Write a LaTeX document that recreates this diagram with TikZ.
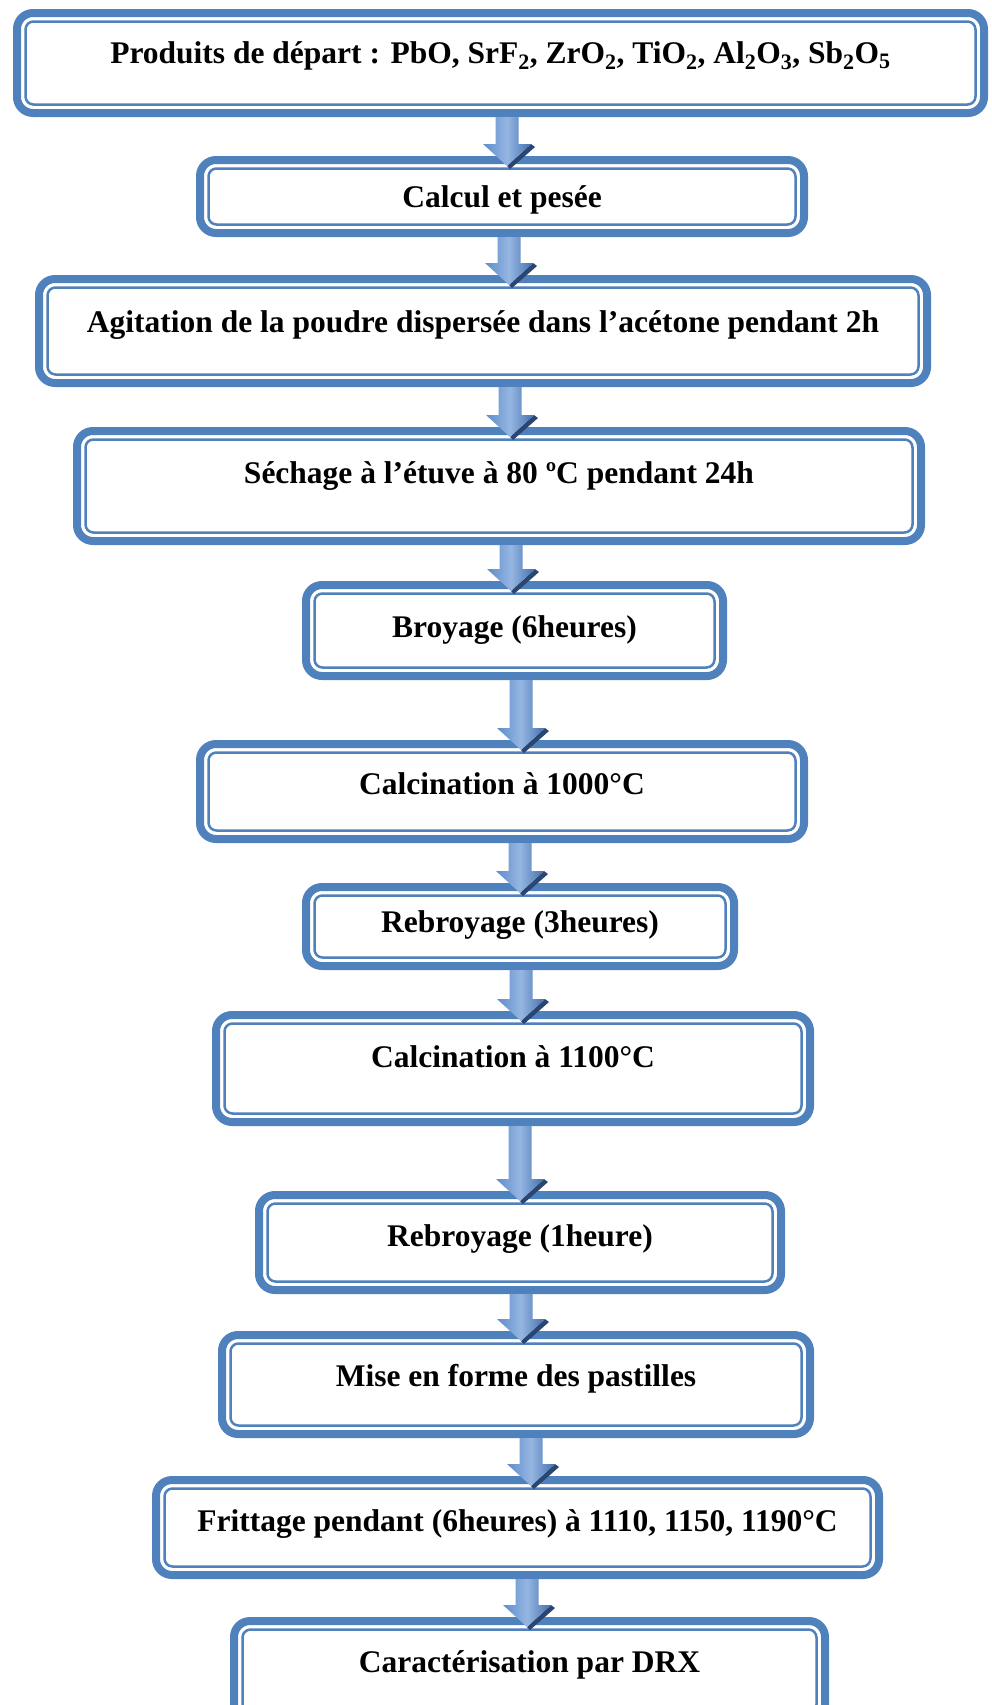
\documentclass[tikz,border=0pt]{standalone}
\usepackage{fontspec}
\setmainfont{Liberation Serif}
\usetikzlibrary{calc}
\definecolor{bxblue}{HTML}{4F81BD}
\definecolor{arlight}{HTML}{95B6E2}
\definecolor{arleft}{HTML}{5E8DCA}
\definecolor{ardark}{HTML}{416FAD}
\definecolor{arshadow}{HTML}{2A4670}
\tikzset{
  flowbox/.style={draw=bxblue, line width=8pt, rounded corners=16pt, outer sep=0pt, inner sep=0pt, fill=white},
  innerline/.style={draw=bxblue, line width=2.5pt, rounded corners=8pt},
  flowtext/.style={anchor=base, font=\bfseries\fontsize{31.5}{36}\selectfont, inner sep=0pt, text=black},
  arrowshade/.style={fill=arshadow},
}
\newcommand\flowbox[7]{%
  \node[flowbox, minimum width={(#4-#2-8)*1pt}, minimum height={(#5-#3-8)*1pt}] (#1) at ({(#2+#4)/2},{(#3+#5)/2}) {};
  \draw[innerline] ($(#1.north west)+(8.5pt,-8.5pt)$) rectangle ($(#1.south east)+(-8.5pt,8.5pt)$);
  \node[flowtext] (#1t) at ({(#2+#4)/2},#6) {#7};
}
\newcommand\flowarrow[3]{%
  \coordinate (#1ax) at (#3,0);
  \fill[arrowshade] let \p1=(#1.south), \p2=(#2.north), \p3=(#1ax) in
    (\x3+24pt,\y2+16pt) -- (\x3+28pt,\y2+13pt) -- (\x3+3pt,\y2-9pt) -- (\x3,\y2-6pt) -- cycle;
  \shade[left color=arleft, right color=ardark, middle color=arlight] let \p1=(#1.south), \p2=(#2.north), \p3=(#1ax) in
    (\x3-11.5pt,\y1-4pt) -- (\x3+11.5pt,\y1-4pt) -- (\x3+11.5pt,\y2+16pt) -- (\x3+24pt,\y2+16pt)
    -- (\x3,\y2-6pt) -- (\x3-24pt,\y2+16pt) -- (\x3-11.5pt,\y2+16pt) -- cycle;
}
\begin{document}
\begin{tikzpicture}[x=1pt,y=-1pt]
\useasboundingbox[fill=white] (0,0) rectangle (991,1705);
\flowbox{b1}{13}{9}{988}{117}{63}{Produits de départ : PbO, SrF\textsubscript{2}, ZrO\textsubscript{2}, TiO\textsubscript{2}, Al\textsubscript{2}O\textsubscript{3}, Sb\textsubscript{2}O\textsubscript{5}}
\flowbox{b2}{196}{156}{808}{237}{207}{Calcul et pesée}
\flowbox{b3}{35}{275}{931}{387}{332}{Agitation de la poudre dispersée dans l’acétone pendant 2h}
\flowbox{b4}{73}{427}{925}{545}{483}{Séchage à l’étuve à 80 ºC pendant 24h}
\flowbox{b5}{302}{581}{727}{680}{637}{Broyage (6heures)}
\flowbox{b6}{196}{740}{808}{843}{794}{Calcination à 1000°C}
\flowbox{b7}{302}{883}{738}{970}{932}{Rebroyage (3heures)}
\flowbox{b8}{212}{1011}{814}{1126}{1067}{Calcination à 1100°C}
\flowbox{b9}{255}{1191}{785}{1294}{1246}{Rebroyage (1heure)}
\flowbox{b10}{218}{1331}{814}{1438}{1386}{Mise en forme des pastilles}
\flowbox{b11}{152}{1476}{883}{1579}{1531}{Frittage pendant (6heures) à 1110, 1150, 1190°C}
\flowbox{b12}{230}{1617}{829}{1725}{1672}{Caractérisation par DRX}
\flowarrow{b1}{b2}{507}
\flowarrow{b2}{b3}{509}
\flowarrow{b3}{b4}{510}
\flowarrow{b4}{b5}{511}
\flowarrow{b5}{b6}{521}
\flowarrow{b6}{b7}{520}
\flowarrow{b7}{b8}{521}
\flowarrow{b8}{b9}{520}
\flowarrow{b9}{b10}{521}
\flowarrow{b10}{b11}{531}
\flowarrow{b11}{b12}{527}
\end{tikzpicture}
\end{document}
